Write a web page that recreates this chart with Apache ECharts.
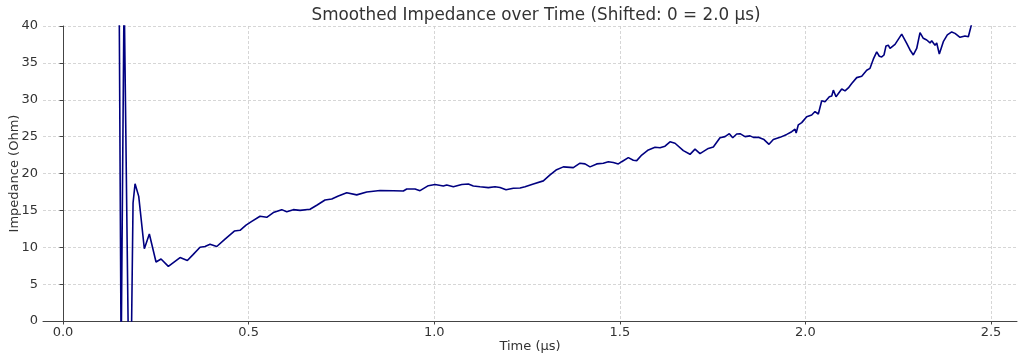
<!DOCTYPE html>
<html>
<head>
<meta charset="utf-8">
<script src="https://cdn.jsdelivr.net/npm/echarts@6/dist/echarts.min.js"></script>
<style>
html,body{margin:0;padding:0;background:#fff;}
#chart{width:1024px;height:361px;}
</style>
</head>
<body>
<div id="chart"></div>
<script>
const titleText = 'Smoothed Impedance over Time (Shifted: 0 = 2.0 μs)';
const xAxisName = 'Time (μs)';
const yAxisName = 'Impedance (Ohm)';
const xTicks = [0, 0.5, 1.0, 1.5, 2.0, 2.5];
const yTicks = [0, 5, 10, 15, 20, 25, 30, 35, 40];

const times = [
  0.150, 0.1565, 0.1645, 0.180, 0.1886, 0.1940, 0.2039, 0.2190, 0.2325, 0.2505,
  0.2640, 0.2837, 0.3152, 0.3349, 0.3502, 0.3691, 0.3825, 0.3960, 0.4141, 0.4364,
  0.4615, 0.4768, 0.4930, 0.5084, 0.5307, 0.5488, 0.5665, 0.5892, 0.6026, 0.6204,
  0.6385, 0.6654, 0.6835, 0.7058, 0.7239, 0.7417, 0.7643, 0.7912, 0.8182, 0.8540,
  0.8898, 0.9168, 0.9259, 0.9483, 0.9617, 0.9841, 1.0022, 1.0245, 1.0337, 1.0515,
  1.0741, 1.0919, 1.1053, 1.1234, 1.1458, 1.1638, 1.1773, 1.1934, 1.2131, 1.2312,
  1.2446, 1.2670, 1.2939, 1.3120, 1.3281, 1.3478, 1.3747, 1.3928, 1.4062, 1.4197,
  1.4378, 1.4555, 1.4690, 1.4825, 1.4959, 1.5051, 1.5229, 1.5364, 1.5455, 1.5590,
  1.5768, 1.5948, 1.6083, 1.6218, 1.6352, 1.6487, 1.6711, 1.6891, 1.7026, 1.7160,
  1.7384, 1.7519, 1.7699, 1.7834, 1.7950, 1.8042, 1.8149, 1.8238, 1.8373, 1.8508,
  1.8597, 1.8731, 1.8885, 1.9019, 1.9135, 1.9316, 1.9496, 1.9631, 1.9720, 1.9750,
  1.9809, 1.9900, 2.0035, 2.0169, 2.0259, 2.0348, 2.0439, 2.0528, 2.0644, 2.0709,
  2.0752, 2.0824, 2.0978, 2.1067, 2.1156, 2.1247, 2.1382, 2.1517, 2.1651, 2.1740,
  2.1829, 2.1921, 2.1991, 2.2055, 2.2117, 2.2171, 2.2233, 2.2279, 2.2414, 2.2594,
  2.2729, 2.2818, 2.2907, 2.2998, 2.3087, 2.3176, 2.3268, 2.3357, 2.3402, 2.3491,
  2.3537, 2.3607, 2.3715, 2.3823, 2.3941, 2.4030, 2.4165, 2.4300, 2.4389, 2.4435,
  2.4515
];
const impedance = [
  55, -5, 45, -20, 16.0, 18.6, 16.9, 9.8, 11.8, 8.0,
  8.4, 7.4, 8.6, 8.2, 9.0, 10.0, 10.1, 10.4, 10.1, 11.1,
  12.2, 12.3, 13.0, 13.5, 14.2, 14.06, 14.7, 15.1, 14.8, 15.1,
  15.0, 15.15, 15.7, 16.4, 16.55, 16.95, 17.4, 17.1, 17.5, 17.7,
  17.67, 17.63, 17.9, 17.9, 17.67, 18.35, 18.5, 18.3, 18.44, 18.2,
  18.5, 18.58, 18.3, 18.2, 18.08, 18.2, 18.1, 17.8, 18.0, 18.03,
  18.2, 18.58, 19.0, 19.8, 20.47, 20.9, 20.8, 21.4, 21.3, 20.9,
  21.3, 21.4, 21.6, 21.5, 21.3, 21.6, 22.15, 21.8, 21.75, 22.5,
  23.2, 23.55, 23.5, 23.7, 24.3, 24.1, 23.1, 22.6, 23.3, 22.7,
  23.4, 23.6, 24.85, 25.0, 25.4, 24.85, 25.36, 25.4, 25.0, 25.1,
  24.9, 24.9, 24.6, 23.96, 24.6, 24.9, 25.3, 25.67, 26.0, 25.5,
  26.6, 26.9, 27.7, 27.93, 28.4, 28.07, 29.87, 29.74, 30.4, 30.5,
  31.3, 30.4, 31.46, 31.2, 31.6, 32.2, 33.0, 33.2, 34.0, 34.26,
  35.5, 36.5, 35.9, 35.8, 36.07, 37.3, 37.4, 36.95, 37.5, 38.9,
  37.65, 36.75, 36.07, 36.95, 39.1, 38.33, 38.1, 37.7, 38.0, 37.4,
  37.7, 36.2, 37.87, 38.8, 39.2, 39.0, 38.47, 38.64, 38.55, 38.8,
  41.0
];

const seriesData = times.map((t, i) => [t, impedance[i]]);
const font = 'DejaVu Sans';
const textColor = '#333333';

const chart = echarts.init(document.getElementById('chart'), null, {renderer: 'canvas'});
chart.setOption({
  animation: false,
  backgroundColor: '#ffffff',
  title: {
    text: titleText,
    left: 531,
    textAlign: 'center',
    top: 2,
    textStyle: {fontFamily: font, fontSize: 16.8, fontWeight: 'normal', color: textColor}
  },
  grid: {left: 43, right: 7, top: 26, bottom: 40, containLabel: false, outerBoundsMode: 'none'},
  xAxis: {
    type: 'value',
    min: -0.054,
    max: 2.570,
    name: xAxisName,
    nameLocation: 'middle',
    nameGap: 19,
    nameMoveOverlap: false,
    nameTextStyle: {fontFamily: font, fontSize: 13, color: textColor},
    axisLine: {show: true, onZero: false, lineStyle: {color: '#444444', width: 1}},
    axisTick: {show: true, length: 3.5, inside: false, customValues: xTicks, lineStyle: {color: '#444444'}},
    axisLabel: {customValues: xTicks, fontFamily: font, fontSize: 13, color: textColor, margin: 5,
      formatter: v => v.toFixed(1)},
    splitLine: {show: true, lineStyle: {color: '#cccccc', type: [3, 2], width: 0.8}}
  },
  yAxis: {
    type: 'value',
    min: 0,
    max: 40,
    interval: 5,
    name: yAxisName,
    nameLocation: 'middle',
    nameGap: 22,
    nameMoveOverlap: false,
    nameTextStyle: {fontFamily: font, fontSize: 13, color: textColor},
    axisLine: {show: true, lineStyle: {color: '#444444', width: 1}},
    axisTick: {show: true, length: 3.5, inside: false, lineStyle: {color: '#444444'}},
    axisLabel: {fontFamily: font, fontSize: 13, color: textColor, margin: 5},
    splitLine: {show: true, lineStyle: {color: '#cccccc', type: [3, 2], width: 0.8}}
  },
  series: [{
    type: 'line',
    data: seriesData,
    showSymbol: false,
    symbol: 'none',
    clip: true,
    lineStyle: {color: '#000080', width: 1.6},
    itemStyle: {color: '#000080'}
  }]
});
</script>
</body>
</html>
